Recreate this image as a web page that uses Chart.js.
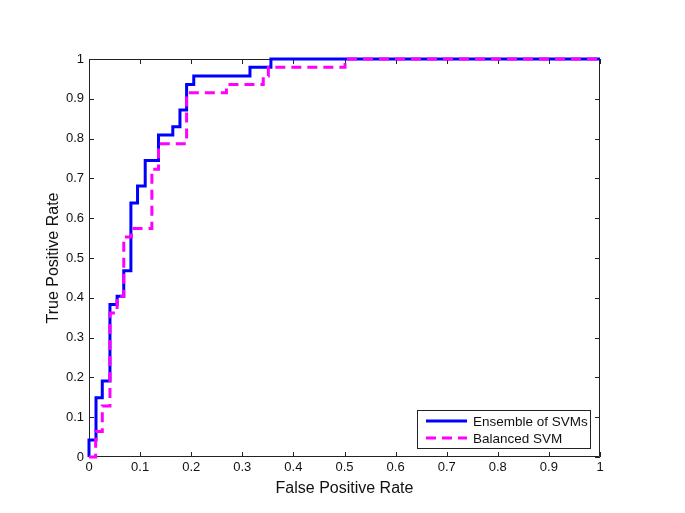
<!DOCTYPE html>
<html>
<head>
<meta charset="utf-8">
<script src="https://cdn.jsdelivr.net/npm/chart.js@4.4.1/dist/chart.umd.min.js"></script>
<style>
    body { margin: 0; background: #fff; }
    canvas { display: block; }
</style>
</head>
<body>
<canvas id="roc-chart" width="685" height="513"></canvas>
<script>
// ROC points (false positive rate / true positive rate)
var ensembleFpr = [0, 0, 0.0137, 0.026, 0.041, 0.055, 0.068, 0.082, 0.095, 0.11, 0.136, 0.164, 0.178, 0.191, 0.205, 0.315, 0.356, 1]
var ensembleTpr = [0, 0.043, 0.149, 0.191, 0.383, 0.404, 0.468, 0.638, 0.681, 0.745, 0.809, 0.830, 0.872, 0.936, 0.957, 0.979, 1, 1]

var balancedFpr = [0, 0.013, 0.026, 0.041, 0.055, 0.068, 0.083, 0.123, 0.136, 0.191, 0.269, 0.341, 0.351, 0.501, 1]
var balancedTpr = [0, 0.064, 0.128, 0.362, 0.404, 0.553, 0.574, 0.723, 0.787, 0.915, 0.936, 0.957, 0.979, 1, 1]

var seriesLabels = ['Ensemble of SVMs', 'Balanced SVM']
var seriesColors = ['#0000ff', '#ff00ff']
var tickValues = [0, 0.1, 0.2, 0.3, 0.4, 0.5, 0.6, 0.7, 0.8, 0.9, 1]

var fontFamily = '"Liberation Sans", Arial, Helvetica, sans-serif'

function toPoints(xs, ys) {
    return xs.map((x, i) => ({ x: x, y: ys[i] }))
}

//matlab style labels: 0, 0.1, ... 1
function tickText(value) {
    return String(+value.toFixed(1))
}

//Box around plot + inward ticks on every side (matlab look)
var frameTicks = {
    id: 'frameTicks',
    beforeDatasetsDraw(chart) {
        var ctx = chart.ctx
        var a = chart.chartArea
        var xs = chart.scales.x
        var ys = chart.scales.y
        var len = 5
        ctx.save()
        ctx.strokeStyle = '#222'
        ctx.lineWidth = 1
        ctx.beginPath()
        ctx.rect(a.left + 0.5, a.top + 0.5, a.right - a.left - 1, a.bottom - a.top - 1)
        tickValues.forEach(v => {
            var px = Math.round(xs.getPixelForValue(v)) + 0.5
            ctx.moveTo(px, a.bottom)
            ctx.lineTo(px, a.bottom - len)
            ctx.moveTo(px, a.top)
            ctx.lineTo(px, a.top + len)
            var py = Math.round(ys.getPixelForValue(v)) + 0.5
            ctx.moveTo(a.left, py)
            ctx.lineTo(a.left + len, py)
            ctx.moveTo(a.right, py)
            ctx.lineTo(a.right - len, py)
        })
        ctx.stroke()
        ctx.restore()
    }
}

//Legend box in the lower right corner
var boxLegend = {
    id: 'boxLegend',
    afterDraw(chart) {
        var ctx = chart.ctx
        var a = chart.chartArea
        var w = 173, h = 38
        var x0 = a.right - 10 - w
        var y0 = a.bottom - 9 - h
        ctx.save()
        ctx.fillStyle = '#fff'
        ctx.fillRect(x0, y0, w, h)
        ctx.strokeStyle = '#222'
        ctx.lineWidth = 1
        ctx.strokeRect(x0 + 0.5, y0 + 0.5, w, h)
        ctx.font = '13.5px ' + fontFamily
        ctx.textBaseline = 'middle'
        chart.data.datasets.forEach((ds, i) => {
            var ly = y0 + 11 + i * 17
            ctx.strokeStyle = ds.borderColor
            ctx.lineWidth = 3
            ctx.setLineDash(ds.borderDash || [])
            ctx.beginPath()
            ctx.moveTo(x0 + 9, ly)
            ctx.lineTo(x0 + 50, ly)
            ctx.stroke()
            ctx.setLineDash([])
            ctx.fillStyle = '#111'
            ctx.fillText(ds.label, x0 + 56, ly + 1)
        })
        ctx.restore()
    }
}

var ctxRoc = document.getElementById('roc-chart').getContext('2d')

let rocChart = new Chart(ctxRoc, {
    type: 'line',
    data: {
        datasets: [{
            label: seriesLabels[0],
            data: toPoints(ensembleFpr, ensembleTpr),
            borderColor: seriesColors[0],
            borderWidth: 3,
            stepped: 'before',
            pointRadius: 0,
            fill: false,
            clip: false,
            order: 2
        }, {
            label: seriesLabels[1],
            data: toPoints(balancedFpr, balancedTpr),
            borderColor: seriesColors[1],
            borderWidth: 3,
            borderDash: [10, 6],
            stepped: 'before',
            pointRadius: 0,
            fill: false,
            clip: false,
            order: 1
        }]
    },
    options: {
        responsive: false,
        animation: false,
        layout: {
            padding: { left: 0, top: 59, right: 85, bottom: 0 }
        },
        plugins: {
            legend: { display: false },
            tooltip: { enabled: false }
        },
        scales: {
            x: {
                type: 'linear',
                min: 0,
                max: 1,
                grid: { display: false, drawTicks: false },
                border: { display: false },
                afterFit: scale => { scale.height = 56 },
                afterBuildTicks: scale => { scale.ticks = tickValues.map(v => ({ value: v })) },
                ticks: {
                    padding: 3,
                    color: '#111',
                    maxRotation: 0,
                    callback: tickText,
                    font: { family: fontFamily, size: 13 }
                },
                title: {
                    display: true,
                    text: 'False Positive Rate',
                    color: '#111',
                    padding: { top: 0, bottom: 15 },
                    font: { family: fontFamily, size: 16 }
                }
            },
            y: {
                type: 'linear',
                min: 0,
                max: 1,
                grid: { display: false, drawTicks: false },
                border: { display: false },
                afterFit: scale => { scale.width = 89 },
                afterBuildTicks: scale => { scale.ticks = tickValues.map(v => ({ value: v })) },
                ticks: {
                    padding: 5,
                    color: '#111',
                    callback: tickText,
                    font: { family: fontFamily, size: 13 }
                },
                title: {
                    display: true,
                    text: 'True Positive Rate',
                    color: '#111',
                    padding: { top: 44, bottom: 0 },
                    font: { family: fontFamily, size: 16 }
                }
            }
        }
    },
    plugins: [frameTicks, boxLegend]
})
</script>
</body>
</html>
